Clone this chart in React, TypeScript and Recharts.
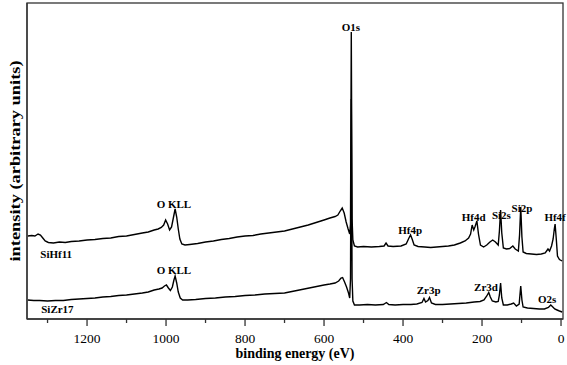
import React from 'react';
import { LineChart, Line, XAxis, YAxis, ReferenceDot } from 'recharts';

// binding energy (eV) / intensity (arbitrary units)
const SIHF11: [number, number][] = [
    [1350, 83], [1340, 83.5], [1332, 83], [1324, 85], [1318, 84], [1312, 81], [1306, 78], [1298, 76.5],
    [1285, 76], [1270, 77], [1255, 76.5], [1240, 77.5], [1220, 78], [1200, 79], [1180, 79.5], [1160, 80.5],
    [1140, 81], [1120, 82.5], [1100, 83], [1080, 84.5], [1060, 86], [1045, 87], [1030, 89], [1020, 90],
    [1012, 91.5], [1006, 94], [1001, 99], [996, 95], [991, 89], [986, 92], [981, 102], [977, 110],
    [973, 102], [969, 90], [965, 80], [960, 75], [952, 74], [940, 74.5], [920, 75.5], [900, 77],
    [880, 78], [860, 79.5], [840, 80.5], [820, 82], [800, 83], [780, 83.5], [760, 85], [740, 86],
    [720, 87], [700, 88], [680, 90], [660, 92], [640, 94], [620, 96.5], [600, 99], [585, 101],
    [572, 102.5], [565, 104], [559, 108], [554, 111], [549, 106], [544, 97], [539, 90], [535, 85],
    [533, 95], [531, 287], [529, 100], [527, 79], [523, 73], [515, 72], [500, 72.5], [480, 72],
    [460, 72.5], [448, 73], [443, 76], [438, 73], [425, 72.5], [405, 73], [392, 75], [385, 81],
    [381, 84], [377, 80], [372, 74], [362, 72.5], [345, 72], [330, 71.5], [315, 72], [300, 72.5],
    [285, 73], [270, 74], [255, 76], [243, 78], [234, 81], [229, 85], [225, 94], [221, 89],
    [218, 92], [213, 98], [209, 85], [204, 74], [196, 72], [188, 74], [180, 77], [173, 79],
    [166, 77], [159, 74], [156, 88], [153, 109], [150, 86], [146, 71], [138, 70], [130, 70.5],
    [122, 73], [116, 70], [108, 68], [105, 84], [102, 112], [99, 82], [96, 67], [88, 65.5],
    [75, 65], [62, 64.5], [50, 65], [40, 66], [33, 70], [29, 68], [24, 73], [20, 80],
    [17, 90], [15, 95], [12, 80], [9, 63], [4, 59.5], [-3, 58],
];

const SIZR17: [number, number][] = [
    [1350, 19], [1335, 18.5], [1320, 18.5], [1300, 18], [1280, 18.5], [1260, 18.5], [1240, 19.5], [1220, 20],
    [1200, 20.5], [1180, 21], [1160, 22], [1140, 22.5], [1120, 23.5], [1100, 24], [1080, 25], [1060, 26],
    [1045, 27], [1030, 29], [1018, 30], [1010, 31], [1004, 33], [999, 34], [994, 31], [989, 28.5],
    [984, 32], [980, 39], [977, 43], [973, 36], [969, 27], [964, 21], [958, 19], [945, 19],
    [925, 19.5], [900, 20.5], [875, 21], [850, 22], [825, 22.5], [800, 23.5], [775, 24], [750, 25],
    [725, 25.5], [700, 26], [675, 28], [650, 30], [625, 32], [600, 34], [585, 35], [572, 36],
    [563, 38], [557, 41], [553, 41.5], [548, 37], [543, 32], [538, 26], [535, 21], [533, 40],
    [531, 220], [529, 40], [527, 18], [523, 14], [510, 14], [490, 14.5], [470, 14], [450, 14.5],
    [442, 16.5], [436, 14.5], [420, 14], [400, 14.5], [380, 14.5], [365, 15], [352, 16.5], [347, 20.5],
    [343, 17], [337, 18.5], [333, 21.5], [328, 16], [318, 14.5], [300, 14.5], [280, 15], [260, 15.5],
    [240, 16], [220, 17], [205, 17.5], [195, 19], [188, 23], [183, 26.5], [179, 22], [174, 18],
    [165, 17], [159, 17.5], [156, 24], [153, 36], [150, 21], [146, 14], [136, 14], [126, 15],
    [120, 16], [113, 13], [106, 15], [102, 33], [99, 19], [96, 12], [85, 11], [70, 10.5],
    [55, 10], [42, 10], [32, 11.5], [26, 14], [22, 12.5], [16, 10], [10, 9], [4, 8],
    [-3, 7],
];

const MAJOR_TICKS = [0, 200, 400, 600, 800, 1000, 1200];
const ALL_TICKS = [0, 100, 200, 300, 400, 500, 600, 700, 800, 900, 1000, 1100, 1200, 1300];

const PEAK_LABELS = [
    { text: 'O1s', ev: 532, y: 292.5 },
    { text: 'O KLL', ev: 980, y: 115.5 },
    { text: 'O KLL', ev: 980, y: 49.5 },
    { text: 'SiHf11', ev: 1278, y: 65.5 },
    { text: 'SiZr17', ev: 1275, y: 10 },
    { text: 'Hf4p', ev: 382, y: 89 },
    { text: 'Zr3p', ev: 335, y: 29 },
    { text: 'Hf4d', ev: 221, y: 102 },
    { text: 'Si2s', ev: 151, y: 104.5 },
    { text: 'Si2p', ev: 99, y: 111 },
    { text: 'Hf4f', ev: 15, y: 102 },
    { text: 'Zr3d', ev: 190, y: 32.5 },
    { text: 'O2s', ev: 35, y: 20 },
];

const hfData = SIHF11.map(([ev, v]) => ({ ev, v }));
const zrData = SIZR17.map(([ev, v]) => ({ ev, v }));

const FONT = '"Liberation Serif", "Times New Roman", Times, serif';
const FRAME = '#333';
const MARGIN = { top: 3, right: 4, bottom: 0, left: 0 };
const X_DOMAIN: [number, number] = [-5, 1352];
const Y_DOMAIN: [number, number] = [0, 316];

const EnergyTick = ({ x, y, payload }: any) => {
    const major = MAJOR_TICKS.includes(payload.value);
    return (
        <g>
            <line x1={x} x2={x} y1={y} y2={y + (major ? 7 : 4)} stroke={FRAME} strokeWidth={1.3} />
            {major && (
                <text x={x} y={y + 24} textAnchor="middle" fontSize={13.5} fontFamily={FONT} fill="#000">
                    {payload.value}
                </text>
            )}
        </g>
    );
};

// x-axis title, plus the box around the plot area (axis viewBox gives its width)
const XTitle = ({ viewBox }: any) => (
    <g>
        <rect
            x={viewBox.x}
            y={MARGIN.top}
            width={viewBox.width}
            height={viewBox.y - MARGIN.top}
            fill="none"
            stroke={FRAME}
            strokeWidth={1.3}
        />
        <text
            x={viewBox.x + viewBox.width / 2}
            y={viewBox.y + 39}
            textAnchor="middle"
            fontSize={14}
            fontWeight="bold"
            fontFamily={FONT}
            fill="#000"
        >
            binding energy (eV)
        </text>
    </g>
);

const YTitle = ({ viewBox }: any) => {
    const cx = 15;
    const cy = viewBox.y + viewBox.height / 2;
    return (
        <text
            x={cx}
            y={cy}
            transform={`rotate(-90 ${cx} ${cy})`}
            textAnchor="middle"
            dominantBaseline="central"
            fontSize={14}
            fontWeight="bold"
            fontFamily={FONT}
            fill="#000"
            textLength={201}
            lengthAdjust="spacingAndGlyphs"
        >
            intensity (arbitrary units)
        </text>
    );
};

export default function App() {
    return (
        <div style={{ position: 'absolute', left: 0, top: 0, fontFamily: FONT }}>
            <LineChart width={567} height={365} margin={MARGIN}>
                <XAxis
                    dataKey="ev"
                    type="number"
                    domain={X_DOMAIN}
                    reversed
                    allowDataOverflow
                    ticks={ALL_TICKS}
                    interval={0}
                    tickSize={0}
                    tickMargin={0}
                    tickLine={false}
                    tick={<EnergyTick />}
                    height={46}
                    axisLine={{ stroke: FRAME, strokeWidth: 1.3 }}
                    label={{ content: XTitle }}
                />
                <YAxis
                    type="number"
                    domain={Y_DOMAIN}
                    allowDataOverflow
                    width={27}
                    tick={false}
                    tickLine={false}
                    axisLine={{ stroke: FRAME, strokeWidth: 1.3 }}
                    label={{ content: YTitle }}
                />

                <Line
                    data={zrData}
                    dataKey="v"
                    type="linear"
                    stroke="#000"
                    strokeWidth={1.4}
                    dot={false}
                    isAnimationActive={false}
                />
                <Line
                    data={hfData}
                    dataKey="v"
                    type="linear"
                    stroke="#000"
                    strokeWidth={1.4}
                    dot={false}
                    isAnimationActive={false}
                />

                {PEAK_LABELS.map((l, i) => (
                    <ReferenceDot
                        key={i}
                        x={l.ev}
                        y={l.y}
                        r={0}
                        shape={(p: any) => (
                            <text
                                x={p.cx}
                                y={p.cy}
                                textAnchor="middle"
                                dominantBaseline="central"
                                fontSize={11}
                                fontWeight="bold"
                                fontFamily={FONT}
                                fill="#000"
                            >
                                {l.text}
                            </text>
                        )}
                    />
                ))}
            </LineChart>
        </div>
    );
}
